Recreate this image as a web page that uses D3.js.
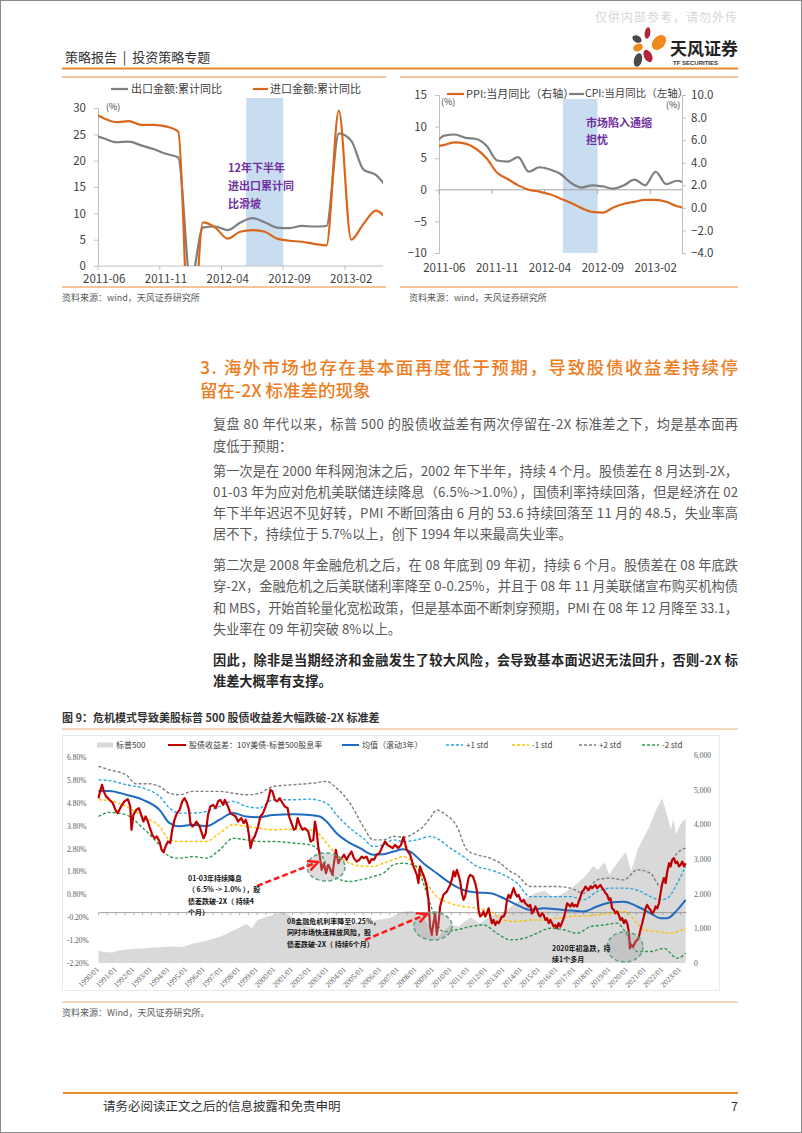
<!DOCTYPE html>
<html><head><meta charset="utf-8">
<script src="https://cdn.jsdelivr.net/npm/d3@7"></script>
<style>
body{margin:0;background:#fff}
svg{display:block;font-family:"Noto Sans CJK SC","Noto Sans",sans-serif}
</style>
</head><body>
<svg id="page" width="802" height="1133"></svg>
<script>
// ---------------- DATA ----------------
// Top-left chart: China export / import cumulative YoY (%)
const tradeMonths = ["2011-05","2011-06","2011-07","2011-08","2011-09","2011-10","2011-11","2011-12",
  "2012-01","2012-02","2012-03","2012-04","2012-05","2012-06","2012-07","2012-08","2012-09","2012-10",
  "2012-11","2012-12","2013-01","2013-02","2013-03","2013-04","2013-05"];
const exportYoY = [25.0,24.2,23.5,23.6,22.9,22.2,21.3,20.6,-3,7.3,7.5,6.8,8.2,9.1,8.3,7.3,7.2,7.6,7.5,7.6,25.2,23.8,18.3,17.3,14.5];
const importYoY = [29.2,28.0,27.3,27.5,26.8,26.8,26.5,25.5,-20,8.3,7.3,5.2,6.5,6.8,6.5,5.2,4.8,4.6,4.2,3.9,29.5,5.0,8.0,10.5,8.5];
const tradeTicks = ["2011-06","2011-11","2012-04","2012-09","2013-02"];
const tradeShade = ["2012-06","2012-08"];

// Top-right chart: PPI (left axis) and CPI (right axis) YoY (%)
const priceMonths = tradeMonths;
const ppiYoY = [6.8,7.1,7.5,7.3,6.5,5.0,2.7,1.7,0.7,0.0,-0.3,-0.7,-1.4,-2.1,-2.9,-3.5,-3.6,-2.8,-2.2,-1.9,-1.6,-1.6,-1.9,-2.6,-2.9];
const cpiYoY = [5.5,6.4,6.5,6.2,6.1,5.5,4.2,4.1,4.5,3.2,3.6,3.4,3.0,2.2,1.8,2.0,1.9,1.7,2.0,2.5,2.0,3.2,2.1,2.4,2.1];
const priceShade = ["2012-06","2012-08"];
const priceLeftTicks = [15,10,5,0,-5,-10];
const priceRightTicks = [10,8,6,4,2,0,-2,-4];

// Figure 9: S&P 500 index (right axis)
const spx = [[1990.0,360],[1990.3,320],[1990.8,305],[1991.2,370],[1991.5,381],[1992.0,410],[1992.5,415],[1993.0,440],
 [1993.5,455],[1994.03,475],[1994.8,460],[1995.36,560],[1995.9,615],[1996.5,700],[1997.0,780],[1997.7,950],
 [1998.4,1120],[1998.7,1000],[1999.0,1230],[1999.8,1380],[2000.4,1470],[2000.8,1400],[2001.2,1240],[2001.7,1080],
 [2002.3,1000],[2002.8,830],[2003.2,850],[2003.6,1000],[2004.2,1120],[2004.7,1130],[2005.2,1180],[2005.9,1250],
 [2006.5,1300],[2006.9,1400],[2007.3,1480],[2007.8,1500],[2008.1,1350],[2008.5,1260],[2008.9,900],[2009.2,720],
 [2009.6,950],[2010.0,1110],[2010.4,1050],[2011.1,1320],[2011.6,1150],[2012.3,1370],[2012.8,1420],[2013.2,1560],
 [2013.8,1780],[2014.2,1850],[2014.8,2020],[2015.3,2080],[2015.7,1930],[2016.1,1940],[2016.8,2140],[2017.6,2500],
 [2018.05,2800],[2018.3,2680],[2018.7,2900],[2018.95,2550],[2019.5,2950],[2019.9,3200],[2020.2,2650],[2020.6,3300],
 [2021.2,3900],[2021.6,4400],[2021.95,4750],[2022.2,4350],[2022.45,3850],[2022.6,4150],[2022.75,3700],[2022.9,3900],
 [2023.1,4080],[2023.29,4170]];

// Figure 9: equity-bond yield spread, 10Y UST minus S&P 500 dividend yield (%)
const spread = [[1990.0,5.00],[1990.09,5.30],[1990.2,5.59],[1990.3,5.30],[1990.43,5.08],[1990.62,4.93],[1990.81,4.79],
 [1990.96,4.49],[1991.09,4.35],[1991.28,4.64],[1991.47,4.86],[1991.66,4.96],[1991.8,4.64],[1991.87,3.62],[1991.98,4.27],
 [1992.14,4.49],[1992.29,4.57],[1992.42,4.27],[1992.55,3.98],[1992.67,4.20],[1992.8,3.98],[1992.89,3.76],[1993.05,3.40],
 [1993.18,3.25],[1993.31,3.33],[1993.46,3.11],[1993.58,2.74],[1993.69,2.63],[1993.8,2.89],[1993.94,3.11],[1994.07,3.04],
 [1994.18,3.62],[1994.31,4.06],[1994.45,4.35],[1994.6,4.49],[1994.75,4.86],[1994.88,5.00],[1995.02,4.79],[1995.13,4.49],
 [1995.21,3.91],[1995.32,3.76],[1995.45,3.84],[1995.55,3.98],[1995.74,3.76],[1995.89,3.40],[1995.96,3.25],[1996.08,3.47],
 [1996.21,4.27],[1996.34,4.64],[1996.5,4.71],[1996.65,4.57],[1996.78,4.86],[1996.91,4.93],[1997.06,4.71],[1997.16,4.93],
 [1997.34,4.64],[1997.48,4.35],[1997.63,4.27],[1997.78,4.20],[1997.91,3.98],[1998.01,4.06],[1998.1,4.13],[1998.23,3.91],
 [1998.35,4.06],[1998.44,3.84],[1998.54,3.33],[1998.62,2.82],[1998.73,3.18],[1998.86,3.33],[1998.96,3.55],[1999.05,3.76],
 [1999.18,4.20],[1999.33,4.35],[1999.48,4.64],[1999.62,4.93],[1999.75,5.37],[1999.86,5.30],[2000.0,4.93],[2000.13,4.86],
 [2000.28,5.00],[2000.43,4.79],[2000.56,4.64],[2000.72,4.57],[2000.81,4.20],[2000.94,3.91],[2001.08,3.62],[2001.19,3.69],
 [2001.29,4.13],[2001.42,3.84],[2001.57,3.62],[2001.7,3.69],[2001.89,3.55],[2002.03,3.11],[2002.18,3.18],[2002.27,3.98],
 [2002.36,3.62],[2002.46,2.89],[2002.55,2.45],[2002.65,1.87],[2002.78,2.16],[2002.9,1.72],[2003.03,2.09],[2003.16,1.87],
 [2003.27,1.65],[2003.35,2.16],[2003.46,2.74],[2003.6,2.16],[2003.69,2.31],[2003.79,2.38],[2003.92,2.53],[2004.07,2.31],
 [2004.22,2.53],[2004.35,2.67],[2004.48,2.38],[2004.64,2.23],[2004.79,2.31],[2004.92,2.45],[2005.05,2.38],[2005.2,2.45],
 [2005.36,2.16],[2005.49,2.34],[2005.62,2.31],[2005.77,2.53],[2005.93,2.60],[2006.06,2.82],[2006.25,3.11],[2006.38,2.96],
 [2006.53,2.89],[2006.68,2.82],[2006.81,2.96],[2007.0,2.82],[2007.15,2.95],[2007.29,3.30],[2007.48,2.74],[2007.67,2.53],
 [2007.86,2.02],[2008.05,1.65],[2008.14,1.29],[2008.23,2.02],[2008.33,1.80],[2008.42,1.65],[2008.52,1.43],[2008.61,1.14],
 [2008.71,0.56],[2008.8,-0.61],[2008.9,-0.97],[2008.99,-0.46],[2009.09,-0.03],[2009.18,-0.97],[2009.28,-0.46],[2009.37,0.27],
 [2009.47,0.56],[2009.56,0.78],[2009.75,0.92],[2009.94,1.21],[2010.03,1.43],[2010.13,1.80],[2010.22,1.58],[2010.32,1.87],
 [2010.41,1.65],[2010.51,1.36],[2010.6,0.85],[2010.7,0.56],[2010.79,0.70],[2010.89,1.14],[2010.98,1.51],[2011.08,1.65],
 [2011.23,1.58],[2011.36,1.29],[2011.45,0.99],[2011.55,0.12],[2011.64,-0.17],[2011.74,-0.10],[2011.83,0.05],[2011.93,-0.17],
 [2012.02,-0.03],[2012.12,0.19],[2012.21,-0.17],[2012.31,-0.46],[2012.4,-0.32],[2012.5,-0.54],[2012.59,-0.39],[2012.69,-0.46],
 [2012.78,-0.32],[2012.87,-0.17],[2012.97,-0.17],[2013.06,-0.03],[2013.16,0.56],[2013.25,0.78],[2013.35,0.63],[2013.44,0.85],
 [2013.54,1.07],[2013.63,0.85],[2013.73,0.70],[2013.82,0.78],[2013.92,0.56],[2014.01,0.48],[2014.11,0.56],[2014.2,0.41],
 [2014.3,0.34],[2014.39,0.27],[2014.48,0.34],[2014.58,-0.03],[2014.67,0.05],[2014.77,0.27],[2014.86,0.12],[2014.96,-0.10],
 [2015.05,-0.17],[2015.15,-0.03],[2015.24,-0.10],[2015.34,-0.32],[2015.43,-0.24],[2015.53,-0.46],[2015.62,-0.32],[2015.72,-0.46],
 [2015.81,-0.61],[2015.91,-0.54],[2016.0,-0.68],[2016.09,-0.46],[2016.19,-0.61],[2016.38,-0.24],[2016.47,0.05],[2016.57,0.41],
 [2016.66,0.34],[2016.76,0.27],[2016.85,0.41],[2016.95,0.27],[2017.04,0.34],[2017.14,0.27],[2017.23,0.48],[2017.33,0.70],
 [2017.42,0.92],[2017.51,0.99],[2017.61,1.14],[2017.7,1.07],[2017.8,0.99],[2017.89,1.14],[2017.99,1.07],[2018.08,1.14],
 [2018.18,1.21],[2018.27,1.07],[2018.37,1.14],[2018.46,1.21],[2018.56,1.07],[2018.65,0.99],[2018.75,0.85],[2018.84,0.78],
 [2018.94,0.56],[2019.03,0.63],[2019.12,0.19],[2019.22,0.12],[2019.31,-0.03],[2019.41,0.05],[2019.5,-0.10],[2019.6,-0.32],
 [2019.69,-0.24],[2019.79,-0.46],[2019.88,-0.32],[2019.98,-0.46],[2020.07,-0.83],[2020.13,-1.56],[2020.2,-1.41],[2020.32,-1.48],
 [2020.45,-1.26],[2020.55,-1.19],[2020.64,-1.05],[2020.73,-0.75],[2020.83,-0.46],[2020.92,-0.17],[2021.02,0.19],[2021.11,0.34],
 [2021.21,0.19],[2021.3,0.12],[2021.4,-0.03],[2021.49,0.05],[2021.59,0.27],[2021.68,0.19],[2021.78,0.41],[2021.87,0.85],
 [2021.97,1.29],[2022.06,1.51],[2022.16,1.29],[2022.25,1.80],[2022.35,2.16],[2022.44,2.02],[2022.53,2.31],[2022.63,2.38],
 [2022.72,2.16],[2022.82,2.23],[2022.91,2.02],[2023.01,2.09],[2023.1,2.23],[2023.2,2.02],[2023.29,2.16]];

// Rolling 3-year mean and +/-1, +/-2 std bands (%)
const meanLine = [[1990.0,5.32],[1990.62,5.32],[1991.57,5.15],[1992.52,4.93],[1993.46,4.49],[1994.03,3.91],[1994.6,3.77],
 [1995.36,3.84],[1996.11,3.77],[1996.87,4.06],[1997.63,4.35],[1998.39,4.20],[1999.14,4.17],[1999.9,4.27],[2001.04,4.30],
 [2001.98,4.27],[2002.55,4.20],[2002.93,3.98],[2003.5,3.47],[2004.26,3.04],[2004.83,2.82],[2005.58,2.53],[2006.15,2.55],
 [2006.72,2.67],[2007.29,2.77],[2007.67,2.67],[2008.42,2.16],[2009.18,1.72],[2009.94,1.29],[2010.7,0.99],[2011.45,0.88],
 [2012.21,0.85],[2012.97,0.63],[2013.73,0.34],[2014.48,0.12],[2015.24,0.19],[2016.0,0.15],[2016.76,0.09],[2017.51,0.05],
 [2018.27,0.27],[2019.03,0.44],[2019.79,0.48],[2020.55,0.27],[2021.3,-0.03],[2021.87,-0.24],[2022.25,-0.24],[2022.82,0.12],[2023.29,0.56]];
const plus1Std = [[1990.0,5.80],[1990.62,5.77],[1991.57,5.59],[1992.52,5.44],[1993.46,5.08],[1994.03,4.57],[1994.6,4.35],
 [1995.36,4.35],[1996.11,4.42],[1996.87,4.64],[1997.63,4.86],[1998.39,4.64],[1999.14,4.57],[1999.9,4.93],[2001.04,4.93],
 [2001.98,4.96],[2002.93,4.78],[2003.5,4.27],[2004.26,3.69],[2005.01,3.25],[2005.58,2.89],[2006.15,2.96],[2006.72,3.18],
 [2007.29,3.11],[2008.05,3.18],[2008.8,3.33],[2009.18,3.25],[2009.94,2.82],[2010.7,2.45],[2011.45,2.02],[2012.21,1.87],
 [2012.97,1.65],[2013.73,1.29],[2014.48,0.70],[2015.24,0.70],[2016.0,0.70],[2016.76,0.70],[2017.51,0.56],[2018.27,0.92],
 [2019.03,1.07],[2019.79,1.07],[2020.55,0.99],[2021.3,0.70],[2021.87,0.56],[2022.25,0.63],[2022.82,1.29],[2023.29,2.02]];
const minus1Std = [[1990.0,4.93],[1990.62,4.90],[1991.57,4.64],[1992.52,4.20],[1993.46,3.77],[1994.03,3.18],[1994.6,3.11],
 [1995.36,3.11],[1996.11,3.11],[1996.87,3.47],[1997.63,3.84],[1998.39,3.77],[1999.14,3.69],[1999.9,3.62],[2001.04,3.65],
 [2001.98,3.62],[2002.55,3.40],[2002.93,3.04],[2003.5,2.53],[2004.26,2.16],[2004.83,2.04],[2005.58,2.02],[2006.15,2.16],
 [2006.72,2.31],[2007.29,2.45],[2007.67,2.31],[2008.42,1.51],[2009.18,0.70],[2009.94,0.41],[2010.7,0.27],[2011.45,0.19],
 [2012.21,0.05],[2012.97,-0.32],[2013.73,-0.39],[2014.48,-0.32],[2015.24,-0.32],[2016.0,-0.24],[2016.76,-0.17],[2017.51,-0.15],
 [2018.27,-0.10],[2019.03,-0.03],[2019.79,0.05],[2020.55,-0.46],[2020.92,-0.75],[2021.68,-0.83],[2022.44,-0.90],[2022.82,-0.83],[2023.29,-0.68]];
const plus2Std = [[1990.0,6.39],[1990.62,6.24],[1991.57,6.02],[1992.14,5.63],[1992.89,5.63],[1993.46,5.51],[1994.03,5.22],
 [1994.6,5.15],[1995.36,5.30],[1996.11,5.30],[1996.87,5.30],[1997.63,5.22],[1998.39,5.15],[1999.14,5.22],[1999.9,5.51],
 [2001.04,5.59],[2002.18,5.66],[2002.93,5.73],[2003.5,5.44],[2004.26,4.78],[2005.01,3.77],[2005.58,3.18],[2006.15,3.18],
 [2006.72,3.33],[2007.29,3.30],[2008.05,3.55],[2008.42,3.77],[2008.8,4.13],[2009.18,4.49],[2009.56,4.35],[2010.32,3.77],
 [2010.89,2.74],[2011.45,2.53],[2012.21,2.38],[2012.78,2.16],[2013.35,1.80],[2013.73,1.65],[2014.48,1.14],[2015.24,1.14],
 [2016.0,1.14],[2016.76,1.07],[2017.51,0.85],[2018.27,1.43],[2019.03,1.51],[2019.79,1.43],[2020.55,1.87],[2021.3,1.72],
 [2021.87,1.14],[2022.44,2.16],[2022.82,2.60],[2023.29,2.82]];
const minus2Std = [[1990.0,4.20],[1990.62,4.38],[1991.57,4.27],[1992.52,3.69],[1993.46,2.96],[1994.03,2.45],[1994.6,2.38],
 [1995.36,2.45],[1996.11,2.38],[1996.87,2.74],[1997.63,3.25],[1998.39,3.18],[1999.14,3.11],[1999.9,3.11],[2001.04,3.04],
 [2001.98,2.96],[2002.55,2.67],[2002.93,2.09],[2003.5,1.51],[2004.26,1.36],[2004.83,1.43],[2005.58,1.58],[2006.15,1.72],
 [2006.72,2.09],[2007.29,2.16],[2008.05,2.02],[2008.42,1.29],[2008.8,0.41],[2009.18,-0.46],[2009.56,-0.83],[2010.32,-0.75],
 [2011.08,-0.61],[2011.83,-0.54],[2012.59,-0.90],[2013.35,-1.19],[2014.11,-1.12],[2014.86,-0.90],[2015.62,-0.68],[2016.38,-0.75],
 [2017.14,-0.90],[2017.89,-0.61],[2018.65,-0.54],[2019.41,-0.46],[2019.79,-0.75],[2020.55,-1.70],[2021.3,-1.70],[2022.06,-1.56],
 [2022.82,-1.99],[2023.29,-1.77]];

const fig9Years = d3.range(1990, 2024);
const fig9LeftTicks = [6.8,5.8,4.8,3.8,2.8,1.8,0.8,-0.2,-1.2,-2.2];
const fig9RightTicks = [6000,5000,4000,3000,2000,1000,0];

// ---------------- DRAW ----------------
const svg = d3.select("#page");
const FONT = '"Noto Sans CJK SC","Noto Sans",sans-serif';
const ORANGE = "#E98A2E";
svg.append("rect").attr("width",802).attr("height",1133).attr("fill","#fff");
svg.append("rect").attr("x",0.5).attr("y",0.5).attr("width",801).attr("height",1132)
  .attr("fill","none").attr("stroke","#8a8a8a").attr("stroke-width",1);

// Header
svg.append("text").attr("x",595).attr("y",22).attr("font-size",12).attr("fill","#d6d6d6")
  .attr("letter-spacing",1).text("仅供内部参考，请勿外传");
const logo = svg.append("g");
[[647.5,33,2.8,5.8,8,"#B3253A"],[659,42.5,6,8.5,40,"#F08A1C"],[637,39,5,3.4,30,"#4A4A4A"],
 [638,47.5,5,3.8,-20,"#F08A1C"],[648,56,4,6.5,-25,"#B3253A"],[638,60,4,7,15,"#4A4A4A"]].forEach(p=>{
  logo.append("ellipse").attr("cx",p[0]).attr("cy",p[1]).attr("rx",p[2]).attr("ry",p[3])
    .attr("transform",`rotate(${p[4]},${p[0]},${p[1]})`).attr("fill",p[5]);
});
svg.append("text").attr("x",670).attr("y",55).attr("font-size",17).attr("font-weight","bold").attr("fill","#222").text("天风证券");
svg.append("text").attr("x",673).attr("y",64.5).attr("font-size",6).attr("font-weight","bold").attr("fill","#333").attr("font-family","Liberation Sans, sans-serif").text("TF SECURITIES");
svg.append("text").attr("x",65).attr("y",62).attr("font-size",13).attr("fill","#333").style("white-space","pre").text("策略报告  |  投资策略专题");
svg.append("line").attr("x1",62).attr("x2",738).attr("y1",68.5).attr("y2",68.5).attr("stroke",ORANGE).attr("stroke-width",1.8);

// ---------- helper: month band chart ----------
function monthScale(months, x0, step){
  return d3.scaleBand().domain(months).range([x0 - step, x0 + (months.length-1)*step]).paddingInner(0).paddingOuter(0);
}

// ---------- Top-left chart ----------
(function(){
  const g = svg.append("g");
  const x0 = 98, xEnd = 383, step = 12.35;
  const x = monthScale(tradeMonths, x0, step);
  const y = d3.scaleLinear().domain([0,30]).range([266,108]);
  g.append("line").attr("x1",62).attr("x2",386).attr("y1",77).attr("y2",77).attr("stroke",ORANGE).attr("stroke-width",1);
  g.append("line").attr("x1",62).attr("x2",386).attr("y1",287).attr("y2",287).attr("stroke",ORANGE).attr("stroke-width",1);
  g.append("rect").attr("x",x(tradeShade[0])).attr("width",x(tradeShade[1])+x.bandwidth()-x(tradeShade[0]))
    .attr("y",98).attr("height",266-98).attr("fill","#C9DDF0");
  const ya = g.append("g").attr("transform",`translate(${x0},0)`).call(d3.axisLeft(y).tickValues([0,5,10,15,20,25,30]).tickSize(4).tickPadding(8));
  ya.select(".domain").attr("stroke","#BFBFBF");
  ya.selectAll(".tick line").attr("stroke","#BFBFBF");
  ya.selectAll("text").attr("font-size",11.5).attr("fill","#404040").attr("font-family",FONT);
  g.append("line").attr("x1",x0).attr("x2",xEnd).attr("y1",266).attr("y2",266).attr("stroke","#BFBFBF");
  tradeTicks.forEach(m=>{
    g.append("line").attr("x1",x(m)).attr("x2",x(m)).attr("y1",266).attr("y2",270).attr("stroke","#BFBFBF");
    g.append("text").attr("x",x(m)+x.bandwidth()/2).attr("y",283).attr("text-anchor","middle").attr("font-size",11.5).attr("fill","#404040").text(m);
  });
  g.append("text").attr("x",106).attr("y",110).attr("font-size",9).attr("fill","#404040").text("(%)");
  svg.append("clipPath").attr("id","clipL").append("rect").attr("x",x0).attr("y",95).attr("width",xEnd-x0).attr("height",266-95);
  const lg = g.append("g").attr("clip-path","url(#clipL)");
  const line = (arr)=>d3.line().x((d,i)=>x(tradeMonths[i])+x.bandwidth()/2).y(d=>y(d)).curve(d3.curveMonotoneX)(arr);
  lg.append("path").attr("d",line(exportYoY)).attr("fill","none").attr("stroke","#7F7F7F").attr("stroke-width",2.2);
  lg.append("path").attr("d",line(importYoY)).attr("fill","none").attr("stroke","#D9661A").attr("stroke-width",2.2);
  g.append("line").attr("x1",111).attr("x2",128).attr("y1",89).attr("y2",89).attr("stroke","#7F7F7F").attr("stroke-width",2.2);
  g.append("text").attr("x",131).attr("y",93).attr("font-size",11).attr("fill","#404040").text("出口金额:累计同比");
  g.append("line").attr("x1",253).attr("x2",268).attr("y1",89).attr("y2",89).attr("stroke","#D9661A").attr("stroke-width",2.2);
  g.append("text").attr("x",270).attr("y",93).attr("font-size",11).attr("fill","#404040").text("进口金额:累计同比");
  ["12年下半年","进出口累计同","比滑坡"].forEach((t,i)=>{
    g.append("text").attr("x",228).attr("y",172+i*18).attr("font-size",11).attr("font-weight","bold").attr("fill","#7030A0").text(t);
  });
  g.append("text").attr("x",62).attr("y",301).attr("font-size",9).attr("fill","#595959").text("资料来源：wind，天风证券研究所");
})();

// ---------- Top-right chart ----------
(function(){
  const g = svg.append("g");
  const x0 = 439, xEnd = 682, step = 10.57;
  const x = monthScale(priceMonths, x0, step);
  const yL = d3.scaleLinear().domain([-10,15]).range([253,95]);
  const yR = d3.scaleLinear().domain([-4,10]).range([253,95]);
  g.append("line").attr("x1",400).attr("x2",738).attr("y1",77).attr("y2",77).attr("stroke",ORANGE).attr("stroke-width",1);
  g.append("line").attr("x1",400).attr("x2",738).attr("y1",287).attr("y2",287).attr("stroke",ORANGE).attr("stroke-width",1);
  g.append("rect").attr("x",x(priceShade[0])-3).attr("width",x(priceShade[1])+x.bandwidth()-x(priceShade[0])+3)
    .attr("y",99).attr("height",253-99).attr("fill","#C9DDF0");
  const al = g.append("g").attr("transform",`translate(${x0},0)`).call(d3.axisLeft(yL).tickValues(priceLeftTicks).tickSize(4).tickPadding(8));
  al.select(".domain").attr("stroke","#BFBFBF"); al.selectAll(".tick line").attr("stroke","#BFBFBF");
  al.selectAll("text").attr("font-size",11.5).attr("fill","#404040").attr("font-family",FONT);
  const ar = g.append("g").attr("transform",`translate(${xEnd},0)`).call(d3.axisRight(yR).tickValues(priceRightTicks).tickSize(4).tickPadding(5).tickFormat(d3.format(".1f")));
  ar.select(".domain").attr("stroke","#BFBFBF"); ar.selectAll(".tick line").attr("stroke","#BFBFBF");
  ar.selectAll("text").attr("font-size",11.5).attr("fill","#404040").attr("font-family",FONT);
  g.append("line").attr("x1",x0).attr("x2",xEnd).attr("y1",yL(0)).attr("y2",yL(0)).attr("stroke","#A6A6A6");
  tradeTicks.forEach(m=>{
    g.append("line").attr("x1",x(m)).attr("x2",x(m)).attr("y1",yL(0)).attr("y2",yL(0)+4).attr("stroke","#A6A6A6");
    g.append("text").attr("x",x(m)+x.bandwidth()/2).attr("y",272).attr("text-anchor","middle").attr("font-size",11.5).attr("fill","#404040").text(m);
  });
  g.append("text").attr("x",441).attr("y",105).attr("font-size",9).attr("fill","#404040").text("(%)");
  g.append("text").attr("x",666).attr("y",108).attr("font-size",9).attr("fill","#404040").text("(%)");
  svg.append("clipPath").attr("id","clipR").append("rect").attr("x",x0).attr("y",90).attr("width",xEnd-x0).attr("height",170);
  const lg = g.append("g").attr("clip-path","url(#clipR)");
  const cx = (d,i)=>x(priceMonths[i])+x.bandwidth()/2;
  lg.append("path").attr("d",d3.line().x(cx).y(d=>yR(d)).curve(d3.curveMonotoneX)(cpiYoY)).attr("fill","none").attr("stroke","#7F7F7F").attr("stroke-width",2.2);
  lg.append("path").attr("d",d3.line().x(cx).y(d=>yL(d)).curve(d3.curveMonotoneX)(ppiYoY)).attr("fill","none").attr("stroke","#D9661A").attr("stroke-width",2.2);
  g.append("line").attr("x1",447).attr("x2",464).attr("y1",94).attr("y2",94).attr("stroke","#D9661A").attr("stroke-width",2.2);
  g.append("text").attr("x",466).attr("y",98).attr("font-size",11).attr("fill","#404040").text("PPI:当月同比（右轴）");
  g.append("line").attr("x1",569).attr("x2",584).attr("y1",94).attr("y2",94).attr("stroke","#7F7F7F").attr("stroke-width",2.2);
  g.append("text").attr("x",585).attr("y",97).attr("font-size",10.5).attr("fill","#404040").text("CPI:当月同比（左轴）");
  ["市场陷入通缩","担忧"].forEach((t,i)=>{
    g.append("text").attr("x",586).attr("y",127+i*17).attr("font-size",11).attr("fill","#7030A0").attr("font-weight","bold").text(t);
  });
  g.append("text").attr("x",409).attr("y",301).attr("font-size",9).attr("fill","#595959").text("资料来源：wind，天风证券研究所");
})();

// ---------- Text section ----------
(function(){
  const g = svg.append("g");
  const H = "#EE7D1F";
  g.append("text").attr("x",200).attr("y",374).attr("font-size",17.5).attr("font-weight",500).attr("fill",H)
    .attr("textLength",538).attr("lengthAdjust","spacing").text("3. 海外市场也存在基本面再度低于预期，导致股债收益差持续停");
  g.append("text").attr("x",200).attr("y",397).attr("font-size",17.5).attr("font-weight",500).attr("fill",H).text("留在-2X 标准差的现象");
  const lines = [
    ["复盘 80 年代以来，标普 500 的股债收益差有两次停留在-2X 标准差之下，均是基本面再",429,1,0],
    ["度低于预期：",451,0,0],
    ["第一次是在 2000 年科网泡沫之后，2002 年下半年，持续 4 个月。股债差在 8 月达到-2X，",476,1,0],
    ["01-03 年为应对危机美联储连续降息（6.5%->1.0%），国债利率持续回落，但是经济在 02",497,1,0],
    ["年下半年迟迟不见好转，PMI 不断回落由 6 月的 53.6 持续回落至 11 月的 48.5，失业率高",518,1,0],
    ["居不下，持续位于 5.7%以上，创下 1994 年以来最高失业率。",539,0,0],
    ["第二次是 2008 年金融危机之后，在 08 年底到 09 年初，持续 6 个月。股债差在 08 年底跌",570,1,0],
    ["穿-2X，金融危机之后美联储利率降至 0-0.25%，并且于 08 年 11 月美联储宣布购买机构债",591,1,0],
    ["和 MBS，开始首轮量化宽松政策，但是基本面不断刺穿预期，PMI 在 08 年 12 月降至 33.1，",613,1,0],
    ["失业率在 09 年初突破 8%以上。",634,0,0],
    ["因此，除非是当期经济和金融发生了较大风险，会导致基本面迟迟无法回升，否则-2X 标",665,1,1],
    ["准差大概率有支撑。",686,0,1]
  ];
  lines.forEach(l=>{
    const t = g.append("text").attr("x",213).attr("y",l[1]).attr("font-size",13.2)
      .attr("fill",l[3]?"#262626":"#595959").attr("font-weight",l[3]?"bold":"normal").text(l[0]);
    if(l[2]) t.attr("textLength",525).attr("lengthAdjust","spacing");
  });
})();

// ---------- Figure 9 ----------
(function(){
  const g = svg.append("g");
  g.append("text").attr("x",62).attr("y",722).attr("font-size",11).attr("font-weight","bold").attr("fill","#333")
    .text("图 9：危机模式导致美股标普 500 股债收益差大幅跌破-2X 标准差");
  g.append("line").attr("x1",62).attr("x2",738).attr("y1",729).attr("y2",729).attr("stroke","#F3C9A2").attr("stroke-width",1.5);
  g.append("rect").attr("x",62.5).attr("y",735.5).attr("width",657).attr("height",255).attr("fill","none").attr("stroke","#E4ECF0");

  const x = d3.scaleLinear().domain([1990,2023]).range([98.5,680.5]);
  const yL = d3.scaleLinear().domain([-2.2,6.8]).range([963,757]);
  const yR = d3.scaleLinear().domain([0,6000]).range([963,755]);

  g.append("path").datum(spx).attr("d",d3.area().x(d=>x(d[0])).y0(yR(0)).y1(d=>yR(d[1])).curve(d3.curveLinear))
    .attr("fill","#D9D9D9");
  g.append("line").attr("x1",x(1990)).attr("x2",x(2023.35)).attr("y1",yL(0)).attr("y2",yL(0)).attr("stroke","#8C8C8C").attr("stroke-width",0.8);
  d3.range(1990,2023.4,0.5).forEach(t=>{
    g.append("line").attr("x1",x(t)).attr("x2",x(t)).attr("y1",yL(0)).attr("y2",yL(0)+2.5).attr("stroke","#8C8C8C").attr("stroke-width",0.6);
  });
  fig9LeftTicks.forEach(v=>{
    g.append("text").attr("x",67).attr("y",yL(v)+3).attr("font-size",7.5).attr("fill","#595959").attr("font-family","Liberation Serif, serif").text(v.toFixed(2)+"%");
  });
  fig9RightTicks.forEach(v=>{
    g.append("text").attr("x",694).attr("y",yR(v)+3).attr("font-size",7.5).attr("fill","#595959").attr("font-family","Liberation Serif, serif").text(d3.format(",")(v));
  });
  fig9Years.forEach(yr=>{
    const px = x(yr)+1, py = 970;
    g.append("text").attr("transform",`translate(${px},${py}) rotate(-45)`).attr("text-anchor","end")
      .attr("font-size",7.8).attr("fill","#595959").attr("font-family","Liberation Serif, serif").text(yr+"/01");
  });

  const ln = d3.line().x(d=>x(d[0])).y(d=>yL(d[1])).curve(d3.curveMonotoneX);
  const dashed = [[plus2Std,"#7F7F7F"],[plus1Std,"#2DA7DF"],[minus1Std,"#FFC000"],[minus2Std,"#2E9A52"]];
  dashed.forEach(s=>{
    g.append("path").attr("d",ln(s[0])).attr("fill","none").attr("stroke",s[1]).attr("stroke-width",1.4).attr("stroke-dasharray","3,2");
  });
  g.append("path").attr("d",ln(meanLine)).attr("fill","none").attr("stroke","#1F6BC0").attr("stroke-width",2);
  g.append("path").attr("d",d3.line().x(d=>x(d[0])).y(d=>yL(d[1]))(spread)).attr("fill","none").attr("stroke","#C00000").attr("stroke-width",2.2).attr("stroke-linejoin","round");

  [[326,867,19,14],[433,926,19,14],[625,947,18,15]].forEach(e=>{
    g.append("ellipse").attr("cx",e[0]).attr("cy",e[1]).attr("rx",e[2]).attr("ry",e[3])
      .attr("fill","#9E9E9E").attr("fill-opacity",0.35).attr("stroke","#5BA37A").attr("stroke-width",1.5).attr("stroke-dasharray","4,2.5");
  });
  const defs = svg.append("defs");
  defs.append("marker").attr("id","ah").attr("viewBox","0 0 10 10").attr("refX",9).attr("refY",5)
    .attr("markerWidth",5).attr("markerHeight",5).attr("orient","auto")
    .append("path").attr("d","M1,1 L9,5 L1,9").attr("fill","none").attr("stroke","#FF1A1A").attr("stroke-width",2);
  [[257,886,318,862],[365,940,427,914]].forEach(a=>{
    g.append("line").attr("x1",a[0]).attr("y1",a[1]).attr("x2",a[2]).attr("y2",a[3]).attr("stroke","#FF1A1A")
      .attr("stroke-width",2.5).attr("stroke-dasharray","6,3").attr("marker-end","url(#ah)");
  });
  const note = (lines, x0, y0) => lines.forEach((t,i)=>g.append("text").attr("x",x0).attr("y",y0+i*11.3)
     .attr("font-size",7).attr("font-weight","bold").attr("fill","#111").text(t));
  note(["01-03年持续降息","（ 6.5% -> 1.0% ），股","债差跌破-2X（ 持续4","个月）"],188,881);
  note(["08金融危机利率降至0.25%，","同时市场快速释放风险，股","债差跌破-2X（ 持续6个月）"],287,924);
  note(["2020年初急跌，持","续1个多月"],552,951);

  const ly = 745;
  g.append("rect").attr("x",97).attr("y",ly-2.5).attr("width",16).attr("height",5).attr("fill","#D9D9D9");
  g.append("text").attr("x",116).attr("y",ly+3).attr("font-size",8).attr("fill","#404040").text("标普500");
  g.append("line").attr("x1",168).attr("x2",186).attr("y1",ly).attr("y2",ly).attr("stroke","#C00000").attr("stroke-width",2);
  g.append("text").attr("x",189).attr("y",ly+3).attr("font-size",8).attr("fill","#404040").text("股债收益差：10Y美债-标普500股息率");
  g.append("line").attr("x1",342).attr("x2",359).attr("y1",ly).attr("y2",ly).attr("stroke","#1F6BC0").attr("stroke-width",2);
  g.append("text").attr("x",362).attr("y",ly+3).attr("font-size",8).attr("fill","#404040").text("均值（滚动3年）");
  [["+1 std","#2DA7DF",446],["-1 std","#FFC000",512],["+2 std","#7F7F7F",579],["-2 std","#2E9A52",642]].forEach(s=>{
    g.append("line").attr("x1",s[2]).attr("x2",s[2]+17).attr("y1",ly).attr("y2",ly).attr("stroke",s[1]).attr("stroke-width",1.4).attr("stroke-dasharray","3,2");
    g.append("text").attr("x",s[2]+20).attr("y",ly+3).attr("font-size",8).attr("fill","#404040").text(s[0]);
  });

  g.append("line").attr("x1",62).attr("x2",738).attr("y1",1002).attr("y2",1002).attr("stroke","#F3C9A2").attr("stroke-width",1.5);
  g.append("text").attr("x",62).attr("y",1016).attr("font-size",9).attr("fill","#595959").text("资料来源：Wind，天风证券研究所。");
})();

// Footer
svg.append("line").attr("x1",63).attr("x2",738).attr("y1",1093).attr("y2",1093).attr("stroke",ORANGE).attr("stroke-width",2);
svg.append("text").attr("x",103).attr("y",1111).attr("font-size",12.5).attr("fill","#333").text("请务必阅读正文之后的信息披露和免责申明");
svg.append("text").attr("x",738).attr("y",1111).attr("font-size",12.5).attr("fill","#333").attr("text-anchor","end").text("7");
</script>
</body></html>
